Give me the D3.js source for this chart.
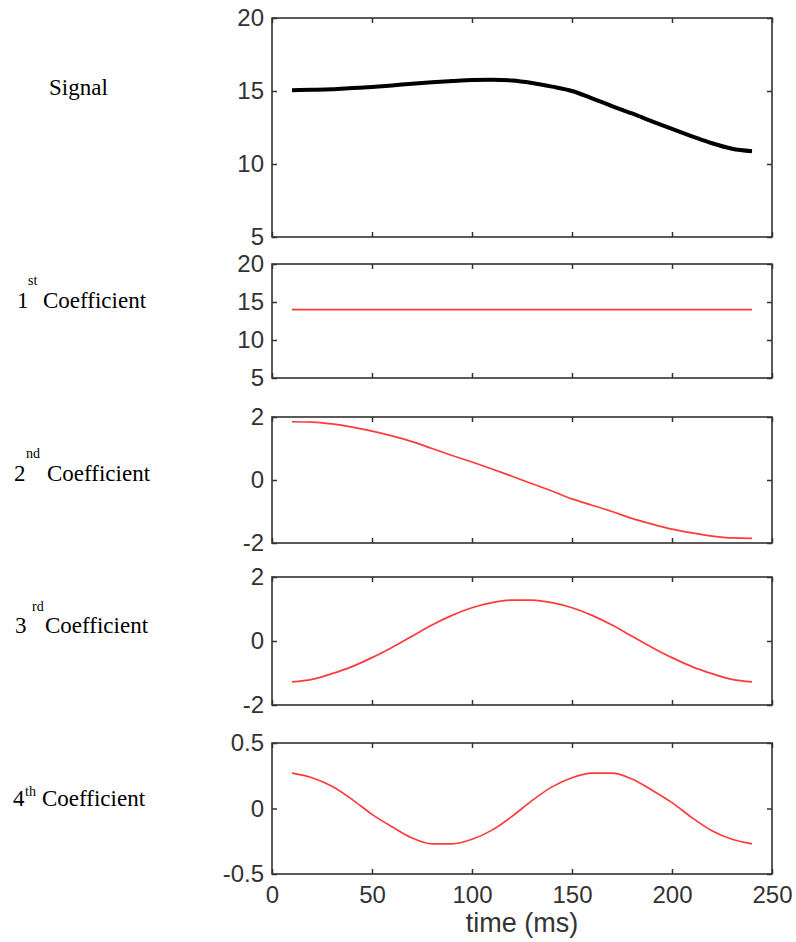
<!DOCTYPE html>
<html lang="en">
  <head>
    <meta charset="utf-8">
    <title>Signal and coefficients</title>
    <style>
        body {
          margin: 0;
          background: #fff;
        }
        svg {
          display: block;
        }
        .tick text {
          font-family: 'Liberation Sans', Arial, sans-serif;
          font-size: 24px;
          fill: #333;
        }
        .tick line {
          stroke: #333;
          stroke-width: 1.5;
        }
        .row-label {
          font-family: 'Liberation Serif', 'Times New Roman', serif;
          font-size: 23px;
          fill: #000;
        }
        .row-label .sup {
          font-size: 14px;
        }
        .x-label {
          font-family: 'Liberation Sans', Arial, sans-serif;
          font-size: 27px;
          fill: #333;
        }
    </style>
  </head>
  <body>
    <div id="viz"></div>
    <script src="https://d3js.org/d3.v7.min.js"></script>
    <script>
        // values, one per 10 ms
        const times = [10, 20, 30, 40, 50, 60, 70, 80, 90, 100, 110, 120,
                       130, 140, 150, 160, 170, 180, 190, 200, 210, 220, 230, 240];
        const signal = [15.05, 15.08, 15.12, 15.2, 15.28, 15.38, 15.5, 15.6, 15.68, 15.75, 15.77, 15.72,
                        15.55, 15.3, 15.0, 14.5, 13.97, 13.46, 12.92, 12.4, 11.9, 11.42, 11.05, 10.88];
        const coef1 = [14, 14, 14, 14, 14, 14, 14, 14, 14, 14, 14, 14,
                       14, 14, 14, 14, 14, 14, 14, 14, 14, 14, 14, 14];
        const coef2 = [1.85, 1.84, 1.78, 1.68, 1.55, 1.4, 1.22, 1.0, 0.78, 0.57, 0.35, 0.12,
                       -0.12, -0.35, -0.6, -0.8, -1.0, -1.22, -1.4, -1.56, -1.68, -1.78, -1.84, -1.85];
        const coef3 = [-1.28, -1.2, -1.02, -0.8, -0.52, -0.2, 0.15, 0.5, 0.8, 1.04, 1.2, 1.28,
                       1.28, 1.2, 1.04, 0.8, 0.5, 0.15, -0.2, -0.52, -0.8, -1.02, -1.2, -1.28];
        const coef4 = [0.27, 0.235, 0.17, 0.07, -0.045, -0.14, -0.225, -0.27, -0.27, -0.235, -0.165, -0.06,
                       0.06, 0.165, 0.235, 0.27, 0.27, 0.225, 0.14, 0.045, -0.07, -0.17, -0.235, -0.27];

        const xTicks = [0, 50, 100, 150, 200, 250];
        const yTicksBig = [5, 10, 15, 20];
        const yTicksTwo = [-2, 0, 2];
        const yTicksHalf = [-0.5, 0, 0.5];
        const xLabel = "time (ms)";

        const width = 796, height = 942;
        const left = 272, right = 772;

        const svg = d3.select("#viz")
                    .append("svg")
                    .attr("width", width)
                    .attr("height", height);

        const xScale = d3.scaleLinear().domain([0, 250]).range([left, right]);

        const panels = [
          { values: signal, domain: [5, 20], ticks: yTicksBig, top: 18, bottom: 237, color: "#000", lw: 4 },
          { values: coef1, domain: [5, 20], ticks: yTicksBig, top: 264, bottom: 378, color: "#ff3b3b", lw: 1.7 },
          { values: coef2, domain: [-2, 2], ticks: yTicksTwo, top: 417, bottom: 543, color: "#ff3b3b", lw: 1.7 },
          { values: coef3, domain: [-2, 2], ticks: yTicksTwo, top: 577, bottom: 705, color: "#ff3b3b", lw: 1.7 },
          { values: coef4, domain: [-0.5, 0.5], ticks: yTicksHalf, top: 743, bottom: 874, color: "#ff3b3b", lw: 1.7 }
        ];

        panels.forEach((p, i) => {
          const yScale = d3.scaleLinear().domain(p.domain).range([p.bottom, p.top]);
          const g = svg.append("g");
          const last = i === panels.length - 1;

          // inward ticks on all four sides, like the matlab boxes
          g.append("g")
            .attr("transform", `translate(${left},0)`)
            .call(d3.axisLeft(yScale).tickValues(p.ticks).tickSize(-5).tickPadding(8).tickFormat(d => String(d)))
            .call(g => g.select(".domain").remove());
          g.append("g")
            .attr("transform", `translate(${right},0)`)
            .call(d3.axisRight(yScale).tickValues(p.ticks).tickSize(-5).tickFormat(""))
            .call(g => g.select(".domain").remove());
          g.append("g")
            .attr("transform", `translate(0,${p.top})`)
            .call(d3.axisTop(xScale).tickValues(xTicks).tickSize(-5).tickFormat(""))
            .call(g => g.select(".domain").remove());
          g.append("g")
            .attr("transform", `translate(0,${p.bottom})`)
            .call(d3.axisBottom(xScale).tickValues(xTicks).tickSize(-5).tickPadding(12)
              .tickFormat(last ? d => String(d) : ""))
            .call(g => g.select(".domain").remove());

          g.append("rect")
            .attr("x", left)
            .attr("y", p.top)
            .attr("width", right - left)
            .attr("height", p.bottom - p.top)
            .attr("fill", "none")
            .attr("stroke", "#333")
            .attr("stroke-width", 1.6);

          const line = d3.line()
            .curve(d3.curveMonotoneX)
            .x((d, j) => xScale(times[j]))
            .y(d => yScale(d));

          g.append("path")
            .datum(p.values)
            .attr("d", line)
            .attr("fill", "none")
            .attr("stroke", p.color)
            .attr("stroke-width", p.lw)
            .attr("stroke-linejoin", "round");
        });

        svg.append("text")
          .attr("class", "x-label")
          .attr("x", (left + right) / 2)
          .attr("y", 932)
          .attr("text-anchor", "middle")
          .text(xLabel);

        // row names on the left, serif with ordinal superscripts
        svg.append("text").attr("class", "row-label").attr("x", 49).attr("y", 95).text("Signal");

        const rowLabels = [
          { num: "1", sup: "st", nx: 17, sx: 28, wx: 43, y: 308, sy: 285 },
          { num: "2", sup: "nd", nx: 14, sx: 26, wx: 47, y: 481, sy: 458 },
          { num: "3", sup: "rd", nx: 15, sx: 32, wx: 45, y: 633, sy: 611 },
          { num: "4", sup: "th", nx: 13, sx: 25, wx: 42, y: 806, sy: 796 }
        ];
        rowLabels.forEach(r => {
          const t = svg.append("text").attr("class", "row-label");
          t.append("tspan").attr("x", r.nx).attr("y", r.y).text(r.num);
          t.append("tspan").attr("class", "sup").attr("x", r.sx).attr("y", r.sy).text(r.sup);
          t.append("tspan").attr("x", r.wx).attr("y", r.y).text("Coefficient");
        });
    </script>
  </body>
</html>
